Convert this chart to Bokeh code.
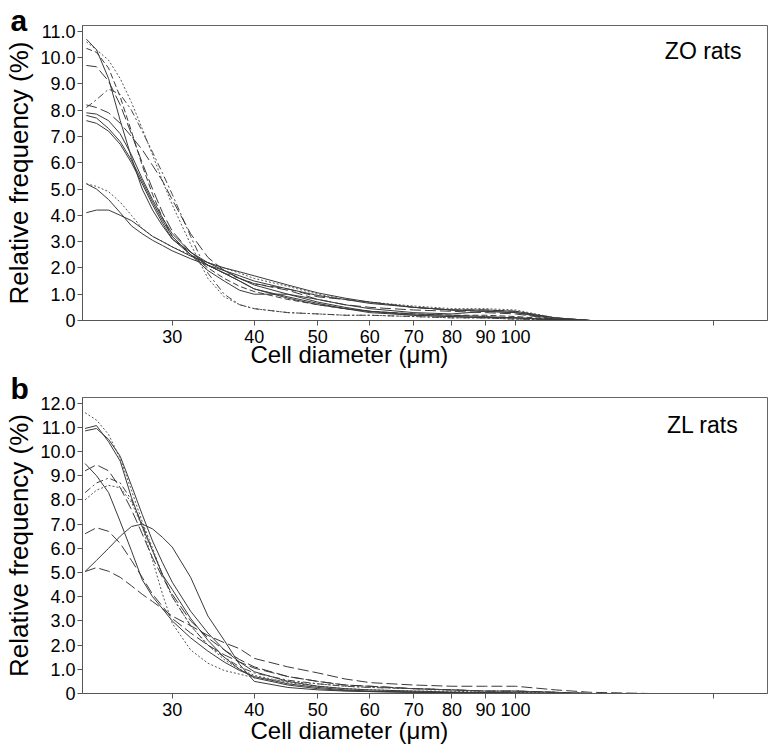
from bokeh.plotting import figure
from bokeh.models import Label, Title, FixedTicker, CustomJSTickFormatter, Range1d
from bokeh.layouts import column
from bokeh.embed import file_html
from bokeh.resources import INLINE

FONT = "Liberation Sans"

# ---------------- data ----------------
x_tick_values = [30, 40, 50, 60, 70, 80, 90, 100, 200]
x_tick_labels = ["30", "40", "50", "60", "70", "80", "90", "100", ""]

ya_tick_values = [0, 1, 2, 3, 4, 5, 6, 7, 8, 9, 10, 11]
ya_tick_labels = ["0", "1.0", "2.0", "3.0", "4.0", "5.0", "6.0", "7.0", "8.0", "9.0", "10.0", "11.0"]
yb_tick_values = [0, 1, 2, 3, 4, 5, 6, 7, 8, 9, 10, 11, 12]
yb_tick_labels = ["0", "1.0", "2.0", "3.0", "4.0", "5.0", "6.0", "7.0", "8.0", "9.0", "10.0", "11.0", "12.0"]

# Panel a: ZO rats (cell diameter, um)
diam_a = [22.2, 23, 24, 25, 26, 27, 28, 29, 30, 32, 34, 36, 38, 40, 45, 50, 55, 60, 70, 80, 90, 100, 115, 130, 160, 200, 240]
zo_1 = [10.7, 10.3, 9.2, 7.6, 6.2, 5.0, 4.2, 3.6, 3.1, 2.5, 2.1, 1.8, 1.5, 1.2, 0.9, 0.65, 0.45, 0.3, 0.2, 0.15, 0.12, 0.1, 0.03, 0, 0, 0, 0]
zo_2 = [10.35, 10.2, 9.6, 8.5, 7.2, 5.9, 4.8, 3.9, 3.2, 2.5, 2.0, 1.6, 1.3, 1.1, 0.8, 0.6, 0.45, 0.35, 0.25, 0.2, 0.2, 0.15, 0.05, 0, 0, 0, 0]
zo_3 = [9.7, 9.65, 9.1, 8.2, 7.1, 6.0, 5.0, 4.1, 3.4, 2.6, 2.1, 1.8, 1.6, 1.4, 1.15, 0.8, 0.6, 0.5, 0.4, 0.35, 0.3, 0.25, 0.05, 0, 0, 0, 0]
zo_4 = [10.6, 10.3, 9.9, 9.2, 8.3, 7.3, 6.3, 5.3, 4.4, 2.9, 1.6, 0.9, 0.6, 0.45, 0.3, 0.25, 0.2, 0.2, 0.15, 0.1, 0.1, 0.05, 0.02, 0, 0, 0, 0]
zo_5 = [8.1, 8.4, 8.8, 8.6, 8.0, 7.2, 6.4, 5.6, 4.8, 3.2, 1.8, 1.0, 0.6, 0.45, 0.3, 0.25, 0.2, 0.2, 0.15, 0.1, 0.1, 0.05, 0.02, 0, 0, 0, 0]
zo_6 = [8.2, 8.1, 7.9, 7.5, 7.0, 6.5, 5.9, 5.3, 4.6, 3.3, 2.4, 1.9, 1.6, 1.4, 1.2, 0.9, 0.8, 0.7, 0.5, 0.4, 0.4, 0.35, 0.1, 0, 0, 0, 0]
zo_7 = [7.9, 7.85, 7.6, 7.1, 6.3, 5.4, 4.6, 3.9, 3.3, 2.6, 2.1, 1.8, 1.5, 1.2, 0.85, 0.6, 0.45, 0.35, 0.25, 0.2, 0.15, 0.1, 0.03, 0, 0, 0, 0]
zo_8 = [7.8, 7.7, 7.3, 6.8, 6.1, 5.3, 4.5, 3.8, 3.2, 2.5, 1.9, 1.5, 1.15, 1.0, 1.0, 0.7, 0.5, 0.35, 0.2, 0.15, 0.1, 0.1, 0.03, 0, 0, 0, 0]
zo_9 = [7.6, 7.5, 7.2, 6.7, 6.0, 5.2, 4.4, 3.7, 3.1, 2.6, 2.2, 1.9, 1.6, 1.35, 1.0, 0.8, 0.6, 0.45, 0.3, 0.25, 0.35, 0.3, 0.05, 0, 0, 0, 0]
zo_10 = [5.2, 5.0, 4.6, 4.1, 3.6, 3.3, 3.05, 2.85, 2.65, 2.35, 2.1, 1.9, 1.7, 1.5, 1.2, 0.95, 0.8, 0.65, 0.5, 0.4, 0.4, 0.35, 0.1, 0, 0, 0, 0]
zo_11 = [5.2, 5.1, 4.9, 4.5, 4.0, 3.5, 3.2, 3.0, 2.8, 2.5, 2.2, 2.0, 1.8, 1.6, 1.3, 1.0, 0.8, 0.7, 0.55, 0.45, 0.45, 0.4, 0.1, 0, 0, 0, 0]
zo_12 = [4.1, 4.2, 4.2, 4.0, 3.8, 3.5, 3.2, 3.0, 2.8, 2.45, 2.2, 2.0, 1.85, 1.7, 1.35, 1.05, 0.85, 0.7, 0.5, 0.4, 0.35, 0.3, 0.1, 0, 0, 0, 0]
zo_series = [zo_1, zo_2, zo_3, zo_4, zo_5, zo_6, zo_7, zo_8, zo_9, zo_10, zo_11, zo_12]
zo_styles = ["solid", "dashed", "longdash", "dotted", "dashdot", "longdash",
             "solid", "solid", "solid", "solid", "dotted", "solid"]

# Panel b: ZL rats
diam_b = [22.1, 23, 24, 25, 26, 27, 28, 29, 30, 32, 34, 36, 38, 40, 45, 50, 55, 60, 70, 80, 90, 100, 115, 130, 160, 200, 240]
zl_1 = [11.6, 11.3, 10.7, 9.7, 8.4, 7.1, 6.0, 4.9, 4.0, 2.8, 2.0, 1.4, 1.0, 0.75, 0.45, 0.3, 0.2, 0.15, 0.1, 0.1, 0.05, 0.05, 0.02, 0, 0, 0, 0]
zl_2 = [10.95, 11.07, 10.4, 9.6, 8.1, 6.9, 5.9, 4.9, 4.3, 3.1, 2.2, 1.5, 1.0, 0.65, 0.35, 0.2, 0.12, 0.08, 0.05, 0.03, 0.02, 0.01, 0, 0, 0, 0, 0]
zl_3 = [10.85, 10.95, 10.5, 9.8, 8.6, 7.4, 6.3, 5.4, 4.6, 3.4, 2.5, 1.8, 1.3, 0.9, 0.5, 0.3, 0.2, 0.15, 0.1, 0.06, 0.04, 0.02, 0, 0, 0, 0, 0]
zl_4 = [9.5, 9.0, 8.3, 7.1, 5.9, 4.7, 4.0, 3.5, 3.0, 2.3, 1.75, 1.3, 0.95, 0.7, 0.4, 0.25, 0.15, 0.1, 0.06, 0.04, 0.03, 0.02, 0, 0, 0, 0, 0]
zl_5 = [9.2, 9.45, 9.2, 8.5, 7.6, 6.6, 5.6, 4.8, 4.1, 3.0, 2.3, 1.8, 1.4, 1.1, 0.7, 0.5, 0.35, 0.3, 0.2, 0.15, 0.1, 0.1, 0.05, 0, 0, 0, 0]
zl_6 = [8.3, 8.7, 8.9, 8.7, 8.0, 7.0, 5.9, 4.9, 4.0, 2.8, 2.0, 1.5, 1.1, 0.85, 0.55, 0.4, 0.3, 0.25, 0.2, 0.15, 0.1, 0.1, 0.05, 0, 0, 0, 0]
zl_7 = [8.0, 8.4, 8.6, 8.5, 7.9, 6.9, 5.5, 4.1, 2.9, 1.8, 1.25, 0.95, 0.8, 0.65, 0.5, 0.4, 0.3, 0.25, 0.2, 0.15, 0.1, 0.1, 0.05, 0, 0, 0, 0]
zl_8 = [6.6, 6.85, 6.7, 6.2, 5.5, 4.8, 4.1, 3.6, 3.1, 2.5, 2.0, 1.6, 1.3, 1.05, 0.7, 0.5, 0.35, 0.3, 0.2, 0.15, 0.1, 0.1, 0.05, 0, 0, 0, 0]
zl_9 = [5.04, 5.5, 6.0, 6.5, 6.9, 7.0, 6.8, 6.45, 6.05, 4.8, 3.2, 2.2, 1.2, 0.5, 0.25, 0.15, 0.1, 0.08, 0.05, 0.03, 0.02, 0.01, 0, 0, 0, 0, 0]
zl_10 = [5.04, 5.2, 5.05, 4.8, 4.45, 4.1, 3.8, 3.5, 3.2, 2.8, 2.4, 2.1, 1.85, 1.45, 1.1, 0.85, 0.6, 0.45, 0.35, 0.3, 0.3, 0.3, 0.15, 0.05, 0, 0, 0]
zl_series = [zl_1, zl_2, zl_3, zl_4, zl_5, zl_6, zl_7, zl_8, zl_9, zl_10]
zl_styles = ["dotted", "solid", "solid", "solid", "longdash", "dashdot",
             "dotted", "longdash", "solid", "longdash"]

DASHES = {"solid": "solid", "dashed": "6 3", "longdash": "11 4",
          "dotted": "2 2", "dashdot": "7 3 2 3"}
COLORS = {"solid": "#3a3a3a", "dashed": "#3a3a3a", "longdash": "#3a3a3a",
          "dotted": "#555555", "dashdot": "#444444"}


def make_panel(xs, series, styles, ymax, ytv, ytl, letter, group,
               frame_h, b_top, b_bottom, letter_standoff, xlab_standoff,
               group_x, group_y):
    p = figure(frame_width=685, frame_height=frame_h, x_axis_type="log",
               x_range=Range1d(21.9, 242), y_range=Range1d(0, ymax),
               output_backend="svg", toolbar_location=None,
               min_border_left=82, min_border_right=4,
               min_border_top=b_top, min_border_bottom=b_bottom)
    p.xgrid.visible = False
    p.ygrid.visible = False
    p.outline_line_color = "#666666"
    p.outline_line_width = 1
    p.background_fill_color = "white"
    p.border_fill_color = "white"

    for ys, st in zip(series, styles):
        p.line(xs, ys, line_color=COLORS[st], line_width=1, line_dash=DASHES[st])

    p.xaxis.ticker = FixedTicker(ticks=x_tick_values, minor_ticks=[])
    p.xaxis.formatter = CustomJSTickFormatter(
        args=dict(vals=x_tick_values, labs=x_tick_labels),
        code="const i = vals.indexOf(tick); return i >= 0 ? labs[i] : '';")
    p.yaxis.ticker = FixedTicker(ticks=ytv, minor_ticks=[])
    p.yaxis.formatter = CustomJSTickFormatter(
        args=dict(vals=ytv, labs=ytl),
        code="const i = vals.indexOf(tick); return i >= 0 ? labs[i] : '';")

    for ax in (p.xaxis[0], p.yaxis[0]):
        ax.axis_line_color = "#555555"
        ax.major_tick_line_color = "#555555"
        ax.major_tick_out = 5
        ax.major_tick_in = 0
        ax.minor_tick_out = 0
        ax.minor_tick_in = 0
        ax.major_label_text_font = FONT
        ax.major_label_text_font_size = "18px"
        ax.major_label_text_color = "black"
    p.xaxis.major_label_standoff = 4
    p.yaxis.major_label_standoff = 2

    # y axis title
    p.yaxis.axis_label = "Relative frequency (%)"
    p.yaxis.axis_label_text_font = FONT
    p.yaxis.axis_label_text_font_size = "26px"
    p.yaxis.axis_label_text_font_style = "normal"
    p.yaxis.axis_label_text_color = "black"
    p.yaxis.axis_label_standoff = 3

    # x axis title (left-shifted, as in the original)
    p.add_layout(Title(text="Cell diameter (\u03bcm)", align="left", offset=168,
                       vertical_align="top", standoff=xlab_standoff,
                       text_font=FONT, text_font_size="24px",
                       text_font_style="normal", text_color="black"), "below")
    # panel letter
    p.add_layout(Title(text=letter, align="left", offset=-72,
                       vertical_align="bottom", standoff=letter_standoff,
                       text_font=FONT, text_font_size="30px",
                       text_font_style="bold", text_color="black"), "above")
    # group label
    p.add_layout(Label(x=group_x, y=group_y, x_units="screen", y_units="screen",
                       text=group, text_align="right", text_baseline="alphabetic",
                       text_font=FONT, text_font_size="23px", text_color="black"))
    return p


pa = make_panel(diam_a, zo_series, zo_styles, 11.22, ya_tick_values, ya_tick_labels,
                "a", "ZO rats", frame_h=295, b_top=25, b_bottom=51,
                letter_standoff=-23, xlab_standoff=-10, group_x=659, group_y=270)
pb = make_panel(diam_b, zl_series, zl_styles, 12.23, yb_tick_values, yb_tick_labels,
                "b", "ZL rats", frame_h=296, b_top=26, b_bottom=56,
                letter_standoff=-15, xlab_standoff=-4, group_x=656, group_y=269)

layout = column(pa, pb, spacing=0)
open("out.html", "w").write(file_html(layout, INLINE))
